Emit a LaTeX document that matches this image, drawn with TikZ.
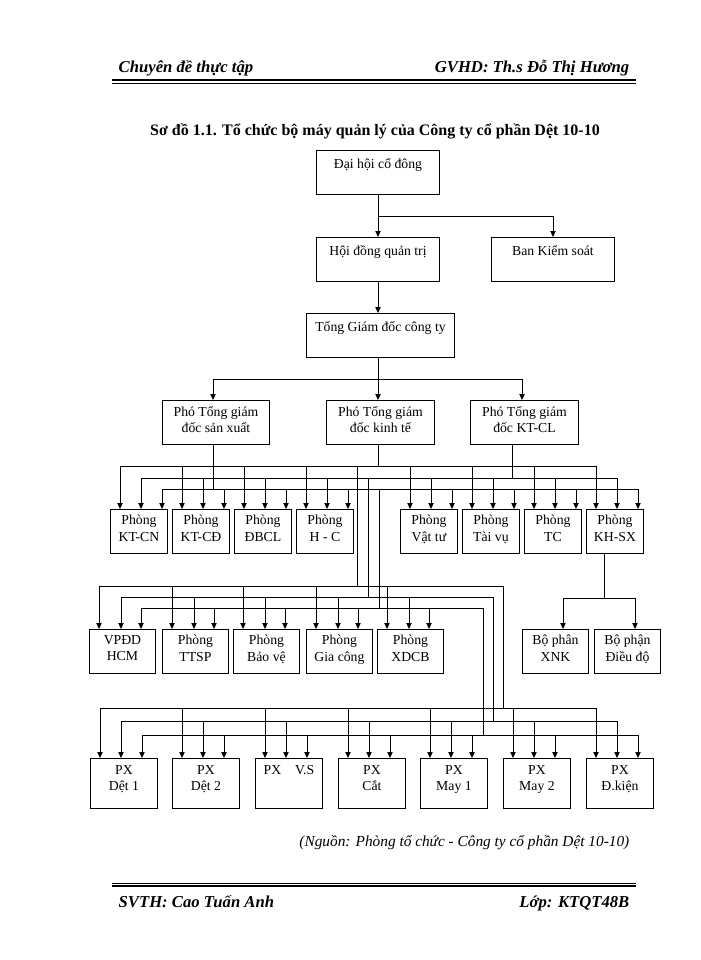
\documentclass[tikz,border=0pt]{standalone}
\usepackage{fontspec}
\setmainfont{Liberation Serif}
\usetikzlibrary{arrows.meta,calc}
\begin{document}
\begin{tikzpicture}[x=0.75pt,y=-0.75pt,
  box/.style={draw,line width=0.7pt,rectangle,inner sep=0,anchor=north west},
  txt/.style={anchor=north,align=center,inner sep=0,font=\fontsize{10.3}{12.5}\selectfont},
  ln/.style={line width=0.6pt},
  arr/.style={ln,-{Triangle[length=4.5pt,width=4pt]}}]
\useasboundingbox (0,0) rectangle (700,960);
% header / footer
\node[anchor=base west,font=\bfseries\itshape\fontsize{12.5}{14}\selectfont] (h1) at (114,72) {Chuyên đề thực tập};
\node[anchor=base east,font=\bfseries\itshape\fontsize{12.5}{14}\selectfont] (h2) at (634,72) {GVHD: Th.s Đỗ Thị Hương};
\draw[line width=1.4pt] (112,80) -- (636,80);
\draw[line width=0.4pt] (112,83) -- (636,83);
\draw[line width=1.4pt] (112,886) -- (636,886);
\draw[line width=0.4pt] (112,883) -- (636,883);
\node[anchor=base west,font=\bfseries\itshape\fontsize{12.5}{14}\selectfont] (f1) at (114,907) {SVTH: Cao Tuấn Anh};
\node[anchor=base east,font=\bfseries\itshape\fontsize{12.5}{14}\selectfont] (f2) at (634,907) {Lớp: KTQT48B};
\node[anchor=base,font=\bfseries\fontsize{12}{14}\selectfont] (title) at (375,135) {Sơ đồ 1.1. Tổ chức bộ máy quản lý của Công ty cổ phần Dệt 10-10};
\node[anchor=base east,font=\itshape\fontsize{11.5}{13}\selectfont] (src) at (634,846) {(Nguồn: Phòng tổ chức - Công ty cổ phần Dệt 10-10)};

% top boxes
\node[box,minimum width=123*0.75pt,minimum height=44*0.75pt] (dh) at (316,150) {};
\node[txt] (dht) at ($(dh.north)+(0,8)$) {Đại hội cổ đông};
\node[box,minimum width=123*0.75pt,minimum height=44*0.75pt] (hd) at (316,237) {};
\node[txt] (hdt) at ($(hd.north)+(0,8)$) {Hội đồng quản trị};
\node[box,minimum width=123*0.75pt,minimum height=44*0.75pt] (bks) at (491,237) {};
\node[txt] (bkst) at ($(bks.north)+(0,8)$) {Ban Kiểm soát};
\node[box,minimum width=148*0.75pt,minimum height=44*0.75pt] (tgd) at (306,313) {};
\node[txt] (tgdt) at ($(tgd.north)+(0,8)$) {Tổng Giám đốc công ty};
\node[box,minimum width=107*0.75pt,minimum height=44*0.75pt] (sx) at (162,400) {};
\node[txt] (sxt) at ($(sx.north)+(0,6)$) {Phó Tổng giám\\đốc sản xuất};
\node[box,minimum width=108*0.75pt,minimum height=44*0.75pt] (kt) at (326,400) {};
\node[txt] (ktt) at ($(kt.north)+(0,6)$) {Phó Tổng giám\\đốc kinh tế};
\node[box,minimum width=108*0.75pt,minimum height=44*0.75pt] (cl) at (470,400) {};
\node[txt] (clt) at ($(cl.north)+(0,6)$) {Phó Tổng giám\\đốc KT-CL};

\coordinate (j1) at (378,216);
\draw[ln] (dh.south -| j1) -- (j1) -- (553,216);
\draw[arr] (j1) -- (hd.north -| j1);
\draw[arr] (553,216) -- (553,237);
\draw[arr] (hd.south -| j1) -- (tgd.north -| j1);
\coordinate (j2) at (378,379);
\draw[ln] (tgd.south -| j2) -- (j2);
\draw[ln] (213,379) -- (522,379);
\draw[arr] (213,379) -- (213,400);
\draw[arr] (j2) -- (kt.north -| j2);
\draw[arr] (522,379) -- (522,400);

% row 1
\foreach \n/\x/\t in {r1/110/{Phòng\\KT-CN},r2/172/{Phòng\\KT-CĐ},r3/234/{Phòng\\ĐBCL},r4/296/{Phòng\\H - C},r5/400/{Phòng\\Vật tư},r6/462/{Phòng\\Tài vụ},r7/524/{Phòng\\TC},r8/586/{Phòng\\KH-SX}}{
  \node[box,minimum width=57*0.75pt,minimum height=44*0.75pt] (\n) at (\x,509) {};
  \node[txt] (\n t) at ($(\n.north)+(0,6)$) {\t};
  \draw[arr] (\n.north west) ++(10,-43) -- ++(0,43);
  \draw[arr] (\n.north west) ++(31,-31) -- ++(0,31);
  \draw[arr] (\n.north west) ++(52,-20) -- ++(0,20);
}
\draw[ln] (kt.south -| 378,0) -- (378,466);
\draw[ln] (cl.south -| 512,0) -- (512,478);
\draw[ln] (sx.south -| 213,0) -- (213,489);
\draw[ln] (120,466) -- (596,466);
\draw[ln] (141,478) -- (617,478);
\draw[ln] (162,489) -- (638,489);
\draw[ln] (357,466) -- (357,586);
\draw[ln] (368,478) -- (368,597);
\draw[ln] (379,489) -- (379,608);

% KH-SX sub
\node[box,minimum width=66*0.75pt,minimum height=44*0.75pt] (xnk) at (522,629) {};
\node[txt] (xnkt) at ($(xnk.north)+(0,6)$) {Bộ phân\\XNK};
\node[box,minimum width=66*0.75pt,minimum height=44*0.75pt] (dd) at (594,629) {};
\node[txt] (ddt) at ($(dd.north)+(0,6)$) {Bộ phận\\Điều độ};
\coordinate (j3) at (604,598);
\draw[ln] (r8.south -| j3) -- (j3);
\draw[ln] (563,598) -- (635,598);
\draw[arr] (563,598) -- (xnk.north -| 563,0);
\draw[arr] (635,598) -- (dd.north -| 635,0);

% row 2
\foreach \n/\x/\t in {s1/89/{VPĐD\\HCM},s2/162/{Phòng\\TTSP},s3/233/{Phòng\\Bảo vệ},s4/306/{Phòng\\Gia công},s5/377/{Phòng\\XDCB}}{
  \node[box,minimum width=66*0.75pt,minimum height=44*0.75pt] (\n) at (\x,629) {};
  \node[txt] (\n t) at ($(\n.north)+(0,6)$) {\t};
  \draw[arr] (\n.north west) ++(10,-43) -- ++(0,43);
  \draw[arr] (\n.north west) ++(32,-32) -- ++(0,32);
  \draw[arr] (\n.north west) ++(52,-21) -- ++(0,21);
}
\draw[ln] (99,586) -- (503,586) -- (503,708);
\draw[ln] (121,597) -- (493,597) -- (493,721);
\draw[ln] (141,608) -- (483,608) -- (483,735);

% row 3
\foreach \n/\x/\t in {p1/90/{PX\\Dệt 1},p2/172/{PX\\Dệt 2},p3/255/{PX\quad V.S},p4/338/{PX\\Cắt},p5/420/{PX\\May 1},p6/503/{PX\\May 2},p7/586/{PX\\Đ.kiện}}{
  \node[box,minimum width=67*0.75pt,minimum height=50*0.75pt] (\n) at (\x,758) {};
  \node[txt] (\n t) at ($(\n.north)+(0,7)$) {\t};
  \draw[arr] (\n.north west) ++(10,-50) -- ++(0,50);
  \draw[arr] (\n.north west) ++(31,-37) -- ++(0,37);
  \draw[arr] (\n.north west) ++(52,-23) -- ++(0,23);
}
\draw[ln] (100,708) -- (597,708);
\draw[ln] (121,721) -- (618,721);
\draw[ln] (142,735) -- (639,735);
\end{tikzpicture}
\end{document}
